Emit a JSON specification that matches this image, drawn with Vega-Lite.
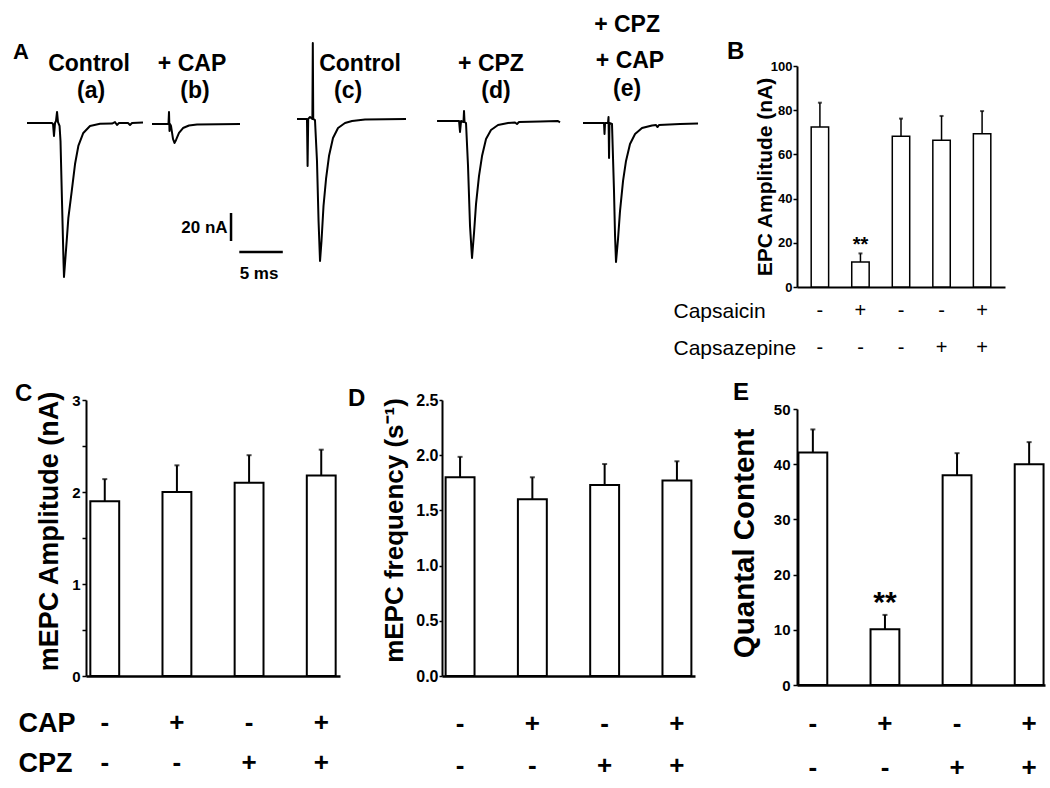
{
  "$schema": "https://vega.github.io/schema/vega-lite/v6.json",
  "autosize": {"type": "pad"},
  "padding": {"left": 13, "top": 13, "right": 5, "bottom": 5},
  "background": "white",
  "config": {
    "view": {"stroke": null},
    "font": "Liberation Sans",
    "axis": {"grid": false, "domainColor": "black", "domainWidth": 2, "tickColor": "black", "tickWidth": 1.5, "tickSize": 4, "labelColor": "black", "titleColor": "black", "labelFont": "Liberation Sans", "labelFontWeight": "bold", "labelPadding": 2, "titleFont": "Liberation Sans", "titleFontWeight": "bold"},
    "title": {"font": "Liberation Sans", "fontSize": 24, "fontWeight": "bold", "anchor": "start", "frame": "group", "offset": 0, "baseline": "alphabetic", "color": "black"}
  },
  "datasets": {
    "traces": [
      {"trace": "a", "t": 0.00, "v": 0.0}, {"trace": "a", "t": 2.87, "v": 0.0}, {"trace": "a", "t": 2.99, "v": -0.7}, {"trace": "a", "t": 3.10, "v": -9.3}, {"trace": "a", "t": 3.22, "v": 0.0}, {"trace": "a", "t": 3.33, "v": 1.4}, {"trace": "a", "t": 3.45, "v": 7.9}, {"trace": "a", "t": 3.56, "v": 0.7}, {"trace": "a", "t": 3.74, "v": -2.1}, {"trace": "a", "t": 3.85, "v": -12.9}, {"trace": "a", "t": 4.02, "v": -55.7}, {"trace": "a", "t": 4.20, "v": -100.0}, {"trace": "a", "t": 4.25, "v": -110.0}, {"trace": "a", "t": 4.56, "v": -84.3}, {"trace": "a", "t": 4.75, "v": -67.9}, {"trace": "a", "t": 5.14, "v": -48.6}, {"trace": "a", "t": 5.52, "v": -29.3}, {"trace": "a", "t": 5.90, "v": -16.4}, {"trace": "a", "t": 6.47, "v": -7.1}, {"trace": "a", "t": 7.24, "v": -2.1}, {"trace": "a", "t": 8.39, "v": -0.6}, {"trace": "a", "t": 9.77, "v": -0.4}, {"trace": "a", "t": 10.11, "v": 0.7}, {"trace": "a", "t": 10.34, "v": -1.4}, {"trace": "a", "t": 10.57, "v": 0.0}, {"trace": "a", "t": 11.61, "v": 0.0}, {"trace": "a", "t": 11.84, "v": -1.4}, {"trace": "a", "t": 12.07, "v": 0.0}, {"trace": "a", "t": 13.33, "v": 0.4},
      {"trace": "b", "t": 14.37, "v": -0.7}, {"trace": "b", "t": 16.09, "v": -0.7}, {"trace": "b", "t": 16.26, "v": -0.7}, {"trace": "b", "t": 16.32, "v": 7.9}, {"trace": "b", "t": 16.38, "v": -5.7}, {"trace": "b", "t": 16.44, "v": -0.7}, {"trace": "b", "t": 16.55, "v": -2.1}, {"trace": "b", "t": 16.78, "v": -11.4}, {"trace": "b", "t": 16.95, "v": -14.3}, {"trace": "b", "t": 17.13, "v": -12.1}, {"trace": "b", "t": 17.47, "v": -7.1}, {"trace": "b", "t": 17.93, "v": -3.6}, {"trace": "b", "t": 18.62, "v": -1.8}, {"trace": "b", "t": 19.54, "v": -1.1}, {"trace": "b", "t": 24.48, "v": -0.7},
      {"trace": "c", "t": 31.03, "v": 2.9}, {"trace": "c", "t": 32.18, "v": 2.9}, {"trace": "c", "t": 32.25, "v": -30.7}, {"trace": "c", "t": 32.32, "v": 2.9}, {"trace": "c", "t": 32.53, "v": 4.3}, {"trace": "c", "t": 32.80, "v": 2.9}, {"trace": "c", "t": 32.85, "v": 57.1}, {"trace": "c", "t": 32.90, "v": 2.9}, {"trace": "c", "t": 33.10, "v": 2.1}, {"trace": "c", "t": 33.33, "v": -27.1}, {"trace": "c", "t": 33.51, "v": -70.0}, {"trace": "c", "t": 33.68, "v": -98.6}, {"trace": "c", "t": 33.85, "v": -84.3}, {"trace": "c", "t": 34.08, "v": -59.3}, {"trace": "c", "t": 34.37, "v": -40.0}, {"trace": "c", "t": 34.71, "v": -23.6}, {"trace": "c", "t": 35.17, "v": -10.7}, {"trace": "c", "t": 35.75, "v": -3.6}, {"trace": "c", "t": 36.55, "v": 0.0}, {"trace": "c", "t": 37.36, "v": 1.4}, {"trace": "c", "t": 38.85, "v": 2.5}, {"trace": "c", "t": 43.56, "v": 2.9},
      {"trace": "d", "t": 47.13, "v": 1.4}, {"trace": "d", "t": 49.66, "v": 1.4}, {"trace": "d", "t": 49.77, "v": -6.4}, {"trace": "d", "t": 49.89, "v": 1.4}, {"trace": "d", "t": 50.17, "v": 0.7}, {"trace": "d", "t": 50.23, "v": 8.6}, {"trace": "d", "t": 50.29, "v": 0.7}, {"trace": "d", "t": 50.46, "v": 0.0}, {"trace": "d", "t": 50.69, "v": -30.7}, {"trace": "d", "t": 50.92, "v": -73.6}, {"trace": "d", "t": 51.15, "v": -96.4}, {"trace": "d", "t": 51.38, "v": -78.6}, {"trace": "d", "t": 51.61, "v": -57.9}, {"trace": "d", "t": 51.95, "v": -37.9}, {"trace": "d", "t": 52.30, "v": -23.6}, {"trace": "d", "t": 52.76, "v": -11.4}, {"trace": "d", "t": 53.33, "v": -5.0}, {"trace": "d", "t": 54.14, "v": -1.4}, {"trace": "d", "t": 55.29, "v": 0.0}, {"trace": "d", "t": 56.09, "v": 0.4}, {"trace": "d", "t": 56.32, "v": -0.7}, {"trace": "d", "t": 56.55, "v": 0.7}, {"trace": "d", "t": 58.97, "v": 1.1}, {"trace": "d", "t": 61.03, "v": 1.4}, {"trace": "d", "t": 61.26, "v": 0.4},
      {"trace": "e", "t": 63.91, "v": 0.0}, {"trace": "e", "t": 66.32, "v": 0.0}, {"trace": "e", "t": 66.38, "v": -7.9}, {"trace": "e", "t": 66.44, "v": 0.0}, {"trace": "e", "t": 66.78, "v": 0.0}, {"trace": "e", "t": 66.84, "v": 4.3}, {"trace": "e", "t": 66.90, "v": -25.0}, {"trace": "e", "t": 66.95, "v": 0.0}, {"trace": "e", "t": 67.24, "v": -0.7}, {"trace": "e", "t": 67.47, "v": -48.6}, {"trace": "e", "t": 67.59, "v": -80.7}, {"trace": "e", "t": 67.70, "v": -99.3}, {"trace": "e", "t": 67.93, "v": -82.9}, {"trace": "e", "t": 68.16, "v": -62.9}, {"trace": "e", "t": 68.51, "v": -41.4}, {"trace": "e", "t": 68.85, "v": -27.1}, {"trace": "e", "t": 69.31, "v": -15.0}, {"trace": "e", "t": 69.89, "v": -7.9}, {"trace": "e", "t": 70.69, "v": -3.6}, {"trace": "e", "t": 71.84, "v": -1.8}, {"trace": "e", "t": 72.30, "v": -1.4}, {"trace": "e", "t": 72.47, "v": -2.9}, {"trace": "e", "t": 72.64, "v": -1.4}, {"trace": "e", "t": 75.06, "v": -0.7}, {"trace": "e", "t": 77.13, "v": -0.4}
    ],
    "scalebars": [
      {"bar": "20 nA", "t1": 23.45, "t2": 23.45, "v1": -64.3, "v2": -84.3},
      {"bar": "5 ms", "t1": 24.4, "t2": 29.4, "v1": -92.1, "v2": -92.1}
    ],
    "labelsA": [
      {"label": "Control", "t": 7.13, "v": 37.1}, {"label": "(a)", "t": 7.36, "v": 17.9},
      {"label": "+ CAP", "t": 18.97, "v": 37.1}, {"label": "(b)", "t": 19.31, "v": 17.9},
      {"label": "Control", "t": 38.28, "v": 37.1}, {"label": "(c)", "t": 36.90, "v": 17.9},
      {"label": "+ CPZ", "t": 53.33, "v": 37.1}, {"label": "(d)", "t": 53.91, "v": 17.9},
      {"label": "+ CPZ", "t": 68.97, "v": 65.3}, {"label": "+ CAP", "t": 69.31, "v": 39.3}, {"label": "(e)", "t": 68.97, "v": 19.3}
    ],
    "scaleLabels": [
      {"label": "20 nA", "t": 20.40, "v": -78.6},
      {"label": "5 ms", "t": 26.67, "v": -111.4}
    ],
    "panelA": [{"label": "A", "t": -1.61, "v": 45.7}],
    "B": [
      {"id": "1", "mean": 72.4, "hi": 83.4, "star": ""},
      {"id": "2", "mean": 11.3, "hi": 15.2, "star": "**"},
      {"id": "3", "mean": 68.2, "hi": 76.2, "star": ""},
      {"id": "4", "mean": 66.4, "hi": 77.4, "star": ""},
      {"id": "5", "mean": 69.4, "hi": 79.6, "star": ""}
    ],
    "signsB": [
      {"id": "1", "row": "Capsaicin", "sign": "-"}, {"id": "2", "row": "Capsaicin", "sign": "+"}, {"id": "3", "row": "Capsaicin", "sign": "-"}, {"id": "4", "row": "Capsaicin", "sign": "-"}, {"id": "5", "row": "Capsaicin", "sign": "+"},
      {"id": "1", "row": "Capsazepine", "sign": "-"}, {"id": "2", "row": "Capsazepine", "sign": "-"}, {"id": "3", "row": "Capsazepine", "sign": "-"}, {"id": "4", "row": "Capsazepine", "sign": "+"}, {"id": "5", "row": "Capsazepine", "sign": "+"}
    ],
    "C": [
      {"id": "1", "mean": 1.9, "hi": 2.14},
      {"id": "2", "mean": 2.0, "hi": 2.29},
      {"id": "3", "mean": 2.1, "hi": 2.40},
      {"id": "4", "mean": 2.18, "hi": 2.46}
    ],
    "D": [
      {"id": "1", "mean": 1.80, "hi": 1.985},
      {"id": "2", "mean": 1.60, "hi": 1.80},
      {"id": "3", "mean": 1.73, "hi": 1.92},
      {"id": "4", "mean": 1.77, "hi": 1.945}
    ],
    "E": [
      {"id": "1", "mean": 42.1, "hi": 46.3, "star": ""},
      {"id": "2", "mean": 10.1, "hi": 12.7, "star": "**"},
      {"id": "3", "mean": 38.0, "hi": 42.0, "star": ""},
      {"id": "4", "mean": 40.0, "hi": 44.0, "star": ""}
    ],
    "signs4": [
      {"id": "1", "row": "CAP", "sign": "-"}, {"id": "2", "row": "CAP", "sign": "+"}, {"id": "3", "row": "CAP", "sign": "-"}, {"id": "4", "row": "CAP", "sign": "+"},
      {"id": "1", "row": "CPZ", "sign": "-"}, {"id": "2", "row": "CPZ", "sign": "-"}, {"id": "3", "row": "CPZ", "sign": "+"}, {"id": "4", "row": "CPZ", "sign": "+"}
    ]
  },
  "hconcat": [
    {
      "vconcat": [
        {
          "width": 609, "height": 225,
          "layer": [
            {"data": {"name": "traces"}, "mark": {"type": "line", "color": "black", "strokeWidth": 2, "strokeJoin": "round"},
             "encoding": {
               "x": {"field": "t", "type": "quantitative", "scale": {"domain": [6.78, 76.78], "nice": false, "zero": false}, "axis": null},
               "y": {"field": "v", "type": "quantitative", "scale": {"domain": [-120, 40.71], "nice": false, "zero": false}, "axis": null},
               "detail": {"field": "trace"}}},
            {"data": {"name": "scalebars"}, "mark": {"type": "rule", "color": "black", "strokeWidth": 2.5},
             "encoding": {"x": {"field": "t1", "type": "quantitative"}, "x2": {"field": "t2"}, "y": {"field": "v1", "type": "quantitative"}, "y2": {"field": "v2"}}},
            {"data": {"name": "labelsA"}, "mark": {"type": "text", "font": "Liberation Sans", "fontWeight": "bold", "fontSize": 23, "baseline": "alphabetic", "align": "center", "color": "black"},
             "encoding": {"x": {"field": "t", "type": "quantitative"}, "y": {"field": "v", "type": "quantitative"}, "text": {"field": "label"}}},
            {"data": {"name": "scaleLabels"}, "mark": {"type": "text", "font": "Liberation Sans", "fontWeight": "bold", "fontSize": 17, "baseline": "alphabetic", "align": "center", "color": "black"},
             "encoding": {"x": {"field": "t", "type": "quantitative"}, "y": {"field": "v", "type": "quantitative"}, "text": {"field": "label"}}},
            {"data": {"name": "panelA"}, "mark": {"type": "text", "font": "Liberation Sans", "fontWeight": "bold", "fontSize": 22, "baseline": "alphabetic", "align": "left", "color": "black"},
             "encoding": {"x": {"field": "t", "type": "quantitative"}, "y": {"field": "v", "type": "quantitative"}, "text": {"field": "label"}}}
          ]
        },
        {
          "hconcat": [
            {
              "width": 254, "height": 276,
              "title": {"text": "C", "dx": -71, "dy": 19},
              "resolve": {"scale": {"y": "independent"}},
              "layer": [
                {"data": {"name": "C"},
                 "encoding": {"x": {"field": "id", "type": "nominal", "scale": {"type": "band", "domain": ["1", "2", "3", "4"], "paddingInner": 0.6, "paddingOuter": 0.06}, "axis": {"labels": false, "ticks": false, "title": null, "domainWidth": 2.5}}},
                 "layer": [
                   {"mark": {"type": "bar", "fill": "white", "stroke": "black", "strokeWidth": 2},
                    "encoding": {"y": {"field": "mean", "type": "quantitative", "scale": {"domain": [0, 3], "nice": false},
                      "axis": {"values": [0, 0.5, 1, 1.5, 2, 2.5, 3], "labelExpr": "datum.value % 1 == 0 ? format(datum.value, 'd') : ''", "labelFontSize": 15, "tickSize": 4, "labelPadding": 2, "title": "mEPC Amplitude (nA)", "titleFontSize": 27, "titleX": -37, "titleY": 131, "titleBaseline": "middle"}}}},
                   {"mark": {"type": "rule", "color": "black", "strokeWidth": 2}, "encoding": {"y": {"field": "mean", "type": "quantitative"}, "y2": {"field": "hi"}}},
                   {"mark": {"type": "tick", "orient": "horizontal", "color": "black", "size": 5, "thickness": 2}, "encoding": {"y": {"field": "hi", "type": "quantitative"}}}
                 ]},
                {"data": {"name": "signs4"}, "mark": {"type": "text", "font": "Liberation Sans", "fontWeight": "bold", "fontSize": 26, "baseline": "middle", "color": "black"},
                 "encoding": {"x": {"field": "id", "type": "nominal"},
                   "y": {"field": "row", "type": "nominal", "scale": {"type": "point", "domain": ["CAP", "CPZ"], "range": [323, 363], "padding": 0},
                     "axis": {"orient": "left", "domain": false, "ticks": false, "tickSize": 0, "labelPadding": 68, "labelAlign": "left", "labelBaseline": "middle", "labelFont": "Liberation Sans", "labelFontWeight": "bold", "labelFontSize": 27, "title": null}},
                   "text": {"field": "sign"}}}
              ]
            },
            {
              "width": 253, "height": 276,
              "title": {"text": "D", "dx": -94, "dy": 23},
              "resolve": {"scale": {"y": "independent"}},
              "layer": [
                {"data": {"name": "D"},
                 "encoding": {"x": {"field": "id", "type": "nominal", "scale": {"type": "band", "domain": ["1", "2", "3", "4"], "paddingInner": 0.6, "paddingOuter": 0.05}, "axis": {"labels": false, "ticks": false, "title": null, "domainWidth": 2.5}}},
                 "layer": [
                   {"mark": {"type": "bar", "fill": "white", "stroke": "black", "strokeWidth": 2},
                    "encoding": {"y": {"field": "mean", "type": "quantitative", "scale": {"domain": [0, 2.5], "nice": false},
                      "axis": {"values": [0, 0.25, 0.5, 0.75, 1, 1.25, 1.5, 1.75, 2, 2.25, 2.5], "format": ".1f", "labelExpr": "round(datum.value * 4) % 2 == 0 ? datum.label : ''", "labelFontSize": 16, "tickSize": 3, "labelPadding": 1, "title": "mEPC frequency (s⁻¹)", "titleFontSize": 26, "titleX": -48, "titleY": 130, "titleBaseline": "middle"}}}},
                   {"mark": {"type": "rule", "color": "black", "strokeWidth": 2}, "encoding": {"y": {"field": "mean", "type": "quantitative"}, "y2": {"field": "hi"}}},
                   {"mark": {"type": "tick", "orient": "horizontal", "color": "black", "size": 5, "thickness": 2}, "encoding": {"y": {"field": "hi", "type": "quantitative"}}}
                 ]},
                {"data": {"name": "signs4"}, "mark": {"type": "text", "font": "Liberation Sans", "fontWeight": "bold", "fontSize": 26, "baseline": "middle", "color": "black"},
                 "encoding": {"x": {"field": "id", "type": "nominal"},
                   "y": {"field": "row", "type": "nominal", "scale": {"type": "point", "domain": ["CAP", "CPZ"], "range": [324, 366], "padding": 0}, "axis": null},
                   "text": {"field": "sign"}}}
              ]
            }
          ],
          "spacing": 102,
          "bounds": "flush"
        }
      ],
      "spacing": 109,
      "bounds": "flush"
    },
    {
      "vconcat": [
        {
          "width": 208, "height": 221,
          "title": {"text": "B", "dx": -70, "dy": 8},
          "resolve": {"scale": {"y": "independent"}},
          "layer": [
            {"data": {"name": "B"},
             "encoding": {"x": {"field": "id", "type": "nominal", "scale": {"type": "band", "domain": ["1", "2", "3", "4", "5"], "paddingInner": 0.57, "paddingOuter": 0.35}, "axis": {"labels": false, "ticks": false, "title": null, "domainWidth": 2}}},
             "layer": [
               {"mark": {"type": "bar", "fill": "white", "stroke": "black", "strokeWidth": 1.5},
                "encoding": {"y": {"field": "mean", "type": "quantitative", "scale": {"domain": [0, 100], "nice": false},
                  "axis": {"values": [0, 10, 20, 30, 40, 50, 60, 70, 80, 90, 100], "labelExpr": "datum.value % 20 == 0 ? datum.label : ''", "labelFontSize": 13, "tickSize": 4, "labelPadding": 1, "title": "EPC Amplitude (nA)", "titleFontSize": 21, "titleX": -32, "titleBaseline": "middle"}}}},
               {"mark": {"type": "rule", "color": "black", "strokeWidth": 1.5}, "encoding": {"y": {"field": "mean", "type": "quantitative"}, "y2": {"field": "hi"}}},
               {"mark": {"type": "tick", "orient": "horizontal", "color": "black", "size": 4, "thickness": 2}, "encoding": {"y": {"field": "hi", "type": "quantitative"}}},
               {"mark": {"type": "text", "font": "Liberation Sans", "fontSize": 20, "fontWeight": "bold", "baseline": "alphabetic", "dy": -2, "color": "black"}, "encoding": {"y": {"field": "hi", "type": "quantitative"}, "text": {"field": "star"}}}
             ]},
            {"data": {"name": "signsB"}, "mark": {"type": "text", "font": "Liberation Sans", "fontSize": 20, "baseline": "middle", "color": "black"},
             "encoding": {"x": {"field": "id", "type": "nominal"},
               "y": {"field": "row", "type": "nominal", "scale": {"type": "point", "domain": ["Capsaicin", "Capsazepine"], "range": [245, 282], "padding": 0},
                 "axis": {"orient": "left", "domain": false, "ticks": false, "tickSize": 0, "labelPadding": 124, "labelAlign": "left", "labelBaseline": "middle", "labelFont": "Liberation Sans", "labelFontWeight": "normal", "labelFontSize": 21, "title": null}},
               "text": {"field": "sign"}}}
          ]
        },
        {
          "width": 248, "height": 276,
          "title": {"text": "E", "dx": -64, "dy": 7},
          "resolve": {"scale": {"y": "independent"}},
          "layer": [
            {"data": {"name": "E"},
             "encoding": {"x": {"field": "id", "type": "nominal", "scale": {"type": "band", "domain": ["1", "2", "3", "4"], "paddingInner": 0.6, "paddingOuter": 0.02}, "axis": {"labels": false, "ticks": false, "title": null, "domainWidth": 2.5}}},
             "layer": [
               {"mark": {"type": "bar", "fill": "white", "stroke": "black", "strokeWidth": 2},
                "encoding": {"y": {"field": "mean", "type": "quantitative", "scale": {"domain": [0, 50], "nice": false},
                  "axis": {"values": [0, 5, 10, 15, 20, 25, 30, 35, 40, 45, 50], "labelExpr": "datum.value % 10 == 0 ? datum.label : ''", "labelFontSize": 15, "tickSize": 4, "labelPadding": 3, "title": "Quantal Content", "titleFontSize": 29.5, "titleX": -53, "titleY": 134, "titleBaseline": "middle"}}}},
               {"mark": {"type": "rule", "color": "black", "strokeWidth": 2}, "encoding": {"y": {"field": "mean", "type": "quantitative"}, "y2": {"field": "hi"}}},
               {"mark": {"type": "tick", "orient": "horizontal", "color": "black", "size": 5, "thickness": 2}, "encoding": {"y": {"field": "hi", "type": "quantitative"}}},
               {"mark": {"type": "text", "font": "Liberation Sans", "fontSize": 30, "fontWeight": "bold", "baseline": "alphabetic", "dy": -3, "color": "black"}, "encoding": {"y": {"field": "hi", "type": "quantitative"}, "text": {"field": "star"}}}
             ]},
            {"data": {"name": "signs4"}, "mark": {"type": "text", "font": "Liberation Sans", "fontWeight": "bold", "fontSize": 26, "baseline": "middle", "color": "black"},
             "encoding": {"x": {"field": "id", "type": "nominal"},
               "y": {"field": "row", "type": "nominal", "scale": {"type": "point", "domain": ["CAP", "CPZ"], "range": [315, 359], "padding": 0}, "axis": null},
               "text": {"field": "sign"}}}
          ]
        }
      ],
      "spacing": 122,
      "bounds": "flush"
    }
  ],
  "spacing": 711,
  "bounds": "flush"
}
